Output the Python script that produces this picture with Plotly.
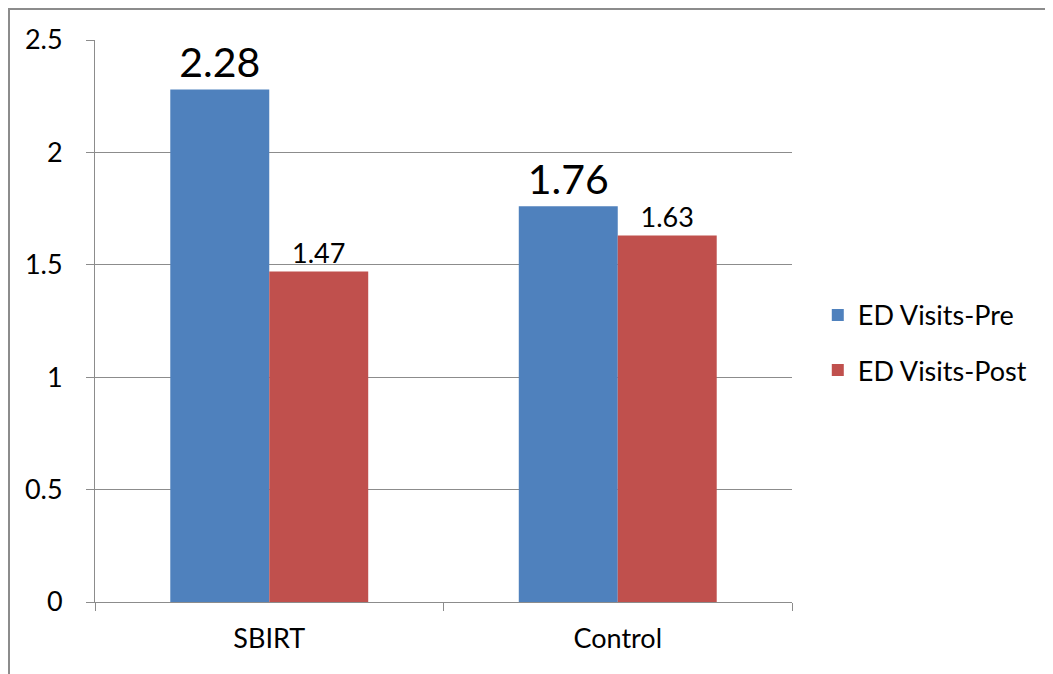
import plotly.graph_objects as go

# data
categories = ["SBIRT", "Control"]
pre_values = [2.28, 1.76]
post_values = [1.47, 1.63]
y_ticks = [0, 0.5, 1, 1.5, 2, 2.5]
y_tick_labels = ["0", "0.5", "1", "1.5", "2", "2.5"]

FONT = "Lato"
GRID = "#8c8c8c"

fig = go.Figure()
fig.add_trace(
    go.Bar(
        x=categories, y=pre_values,
        name="ED Visits-Pre",
        marker=dict(color="#4f81bd", line=dict(width=0)),
        text=[str(v) for v in pre_values],
        textposition="outside",
        textfont=dict(size=41, color="black", family=FONT),
        cliponaxis=False,
        legendgroup="pre",
    )
)
fig.add_trace(
    go.Bar(
        x=categories, y=post_values,
        name="ED Visits-Post",
        marker=dict(color="#c0504d", line=dict(width=0)),
        text=[str(v) for v in post_values],
        textposition="outside",
        textfont=dict(size=27, color="black", family=FONT),
        cliponaxis=False,
        legendgroup="post",
    )
)

fig.update_layout(
    width=1053, height=674,
    margin=dict(l=87, r=269, t=32, b=80),
    paper_bgcolor="white", plot_bgcolor="white",
    barmode="group", bargap=0.432, bargroupgap=0,
    font=dict(family=FONT, size=27, color="black"),
    showlegend=True,
    legend=dict(
        x=1.037, y=0.461, xanchor="left", yanchor="middle",
        font=dict(size=27, family=FONT),
        traceorder="grouped", tracegroupgap=17,
        itemwidth=30,
    ),
    shapes=[
        # outer chart frame (right and bottom edges fall outside the picture)
        dict(type="rect", xref="paper", yref="paper",
             x0=-0.1234, x1=1.6, y0=-0.3, y1=1.0552,
             line=dict(color=GRID, width=2), layer="below"),
    ],
)
fig.update_yaxes(
    range=[0, 2.5], tickvals=y_ticks, ticktext=y_tick_labels,
    showgrid=True, gridcolor=GRID, gridwidth=1,
    showline=True, linecolor=GRID, linewidth=1,
    ticks="outside", ticklen=8, tickcolor=GRID,
    zeroline=False, tickfont=dict(size=27), ticklabelstandoff=18,
)
fig.update_xaxes(
    showline=True, linecolor=GRID, linewidth=1,
    ticks="outside", ticklen=8, tickcolor=GRID, tickson="boundaries",
    tickfont=dict(size=27), mirror=False, ticklabelstandoff=13,
)

fig.write_html("out.html")
